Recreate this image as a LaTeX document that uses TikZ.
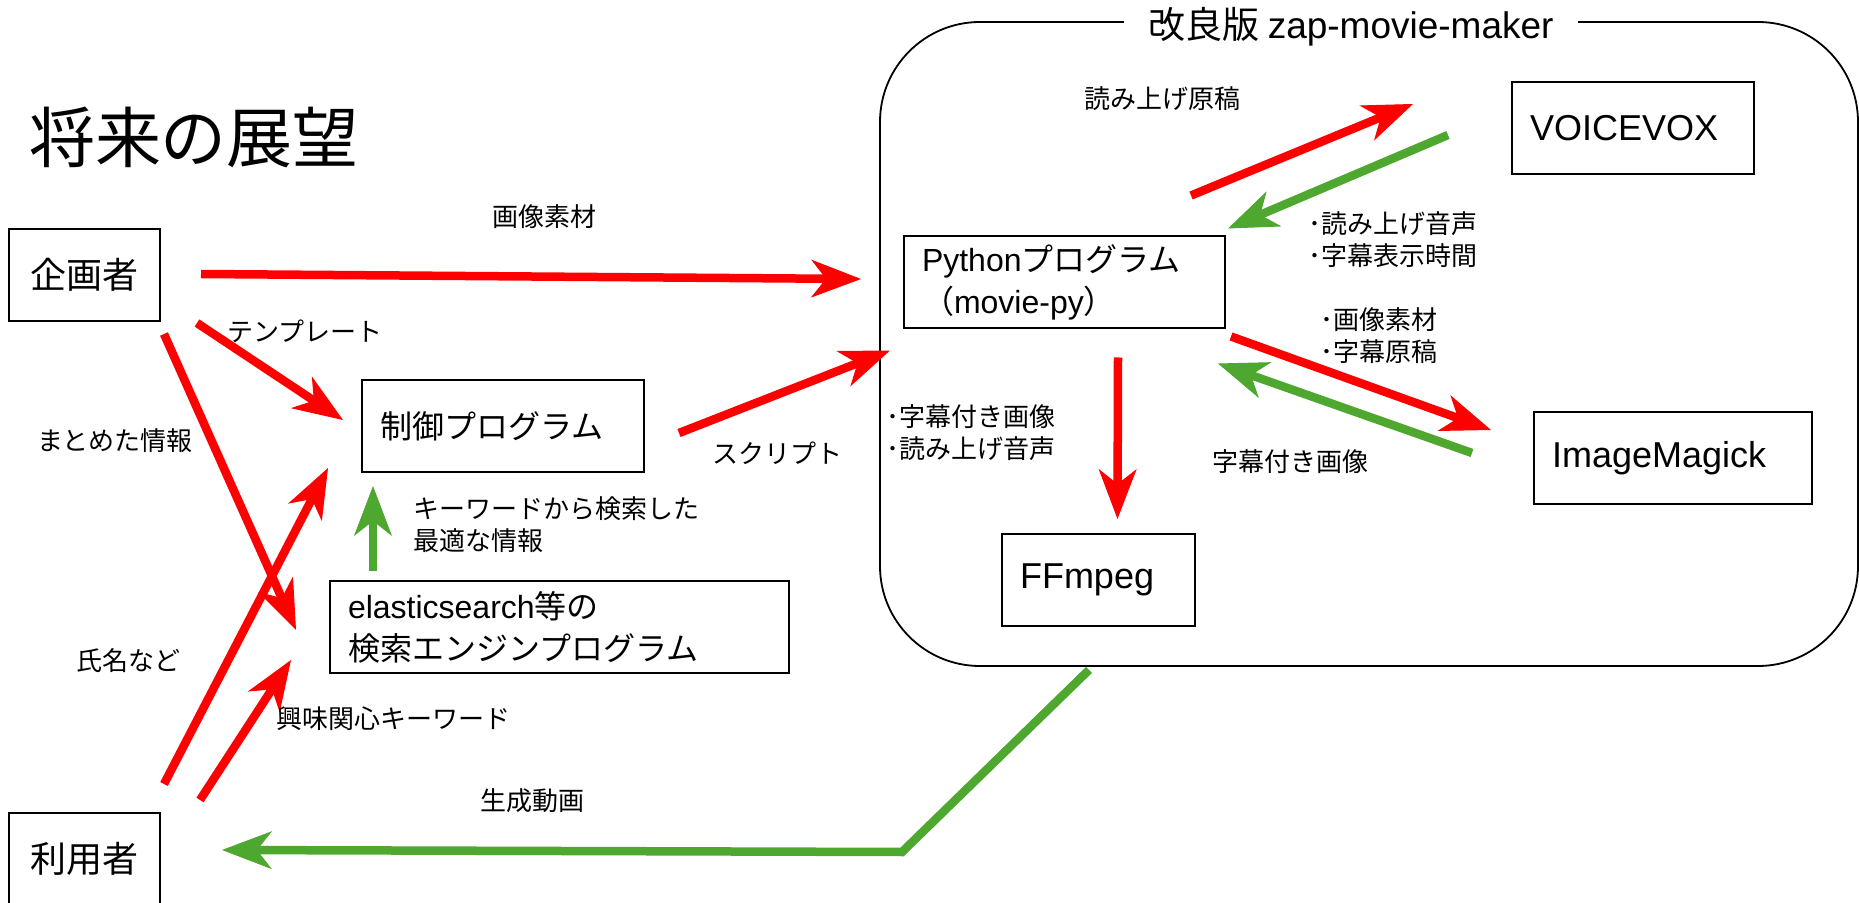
\documentclass[tikz,border=0pt]{standalone}
\usepackage{fontspec}
\setmainfont{Noto Sans CJK JP}
\newfontfamily\lat{Liberation Sans}
\usetikzlibrary{arrows.meta,calc}

\definecolor{arrowred}{HTML}{FF0000}
\definecolor{arrowgreen}{HTML}{4EA72E}

\tikzset{
  box/.style={draw, line width=1pt, inner xsep=9pt, inner ysep=0pt, minimum height=46pt, align=left, font=\fontsize{16pt}{21pt}\selectfont},
  person/.style={draw, line width=1pt, inner sep=0pt, minimum width=75.5pt, minimum height=46pt, font=\fontsize{18pt}{22pt}\selectfont},
  lbl/.style={inner sep=0pt, align=left, font=\fontsize{13pt}{16pt}\selectfont},
  redarrow/.style={draw=arrowred, line width=4.25pt, -{Stealth[length=25pt,width=19pt,inset=7.5pt,line width=0.5pt]}},
  greenarrow/.style={draw=arrowgreen, line width=4.25pt, -{Stealth[length=25pt,width=19pt,inset=7.5pt,line width=0.5pt]}},
}

\begin{document}
\begin{tikzpicture}[x=0.5pt, y=-0.5pt]
            \useasboundingbox (0,0) rectangle (1859,903);

            \node[font=\fontsize{33pt}{40pt}\selectfont, inner sep=0pt] (title) at (194,137) {将来の展望};

            \node[person] (plan) at (84.5,275) {企画者};
            \node[person] (user) at (84.5,859) {利用者};
            \node[box, text width=123pt] (ctrl) at (503,426) {制御プログラム};
            \node[box, text width=211.5pt] (es) at (559.5,627) {{\lat elasticsearch}等の\\検索エンジンプログラム};

            % zap-movie-maker
            \node[draw, line width=0.9pt, rounded corners=50pt, minimum width=489pt, minimum height=322pt] (maker) at (1369,344) {};
            \node[fill=white, inner xsep=12pt, inner ysep=2pt, font=\fontsize{18.5pt}{22pt}\selectfont] (makername) at (1351,27) {改良版 {\lat zap-movie-maker}};
            \node[box, text width=142.5pt] (py) at (1064.5,282.5) {{\lat Python}プログラム\\（{\lat movie-py}）};
            \node[box, text width=103pt, font=\lat\fontsize{18pt}{22pt}\selectfont] (vv) at (1633,128.5) {VOICEVOX};
            \node[box, text width=121pt, font=\lat\fontsize{18pt}{22pt}\selectfont] (im) at (1673,458.5) {ImageMagick};
            \node[box, text width=78.5pt, font=\lat\fontsize{18pt}{22pt}\selectfont] (ff) at (1098.5,580) {FFmpeg};
            \coordinate (bend) at (902,852);

            \draw[redarrow] ($(plan.east)+(40,-1)$) -- ($(py.west)+(-42,-3.5)$);
            \draw[redarrow] ($(plan.south east)+(36,1)$) -- ($(ctrl.west)+(-18,-6)$);
            \draw[redarrow] ($(plan.south east)+(3,12)$) -- ($(es.west)+(-33,3)$);
            \draw[redarrow] ($(user.north east)+(3,-28)$) -- ($(ctrl.south west)+(-33,-5)$);
            \draw[redarrow] ($(user.north east)+(39,-12)$) -- ($(es.south west)+(-38,-14)$);
            \draw[greenarrow] ($(es.north west)+(44,-9)$) -- ($(ctrl.south west)+(12,13)$);
            \draw[redarrow] ($(ctrl.east)+(34,7)$) -- ($(py.south west)+(-13,21)$);
            \draw[redarrow] ($(py.north east)+(-35,-40)$) -- ($(vv.west)+(-98,-24.5)$);
            \draw[greenarrow] ($(vv.west)+(-63,6.5)$) -- ($(py.north east)+(2,-7)$);
            \draw[redarrow] ($(py.south east)+(5,7)$) -- ($(im.west)+(-42,-28.5)$);
            \draw[greenarrow] ($(im.west)+(-61,-5.5)$) -- ($(py.south east)+(-8,34)$);
            \draw[redarrow] ($(py.south)+(53.5,28)$) -- ($(ff.north)+(19,-14)$);
            \draw[greenarrow] ($(maker.south)+(-280,3)$) -- (bend) -- ($(user.east)+(61,-9)$);

            \node[lbl] (l-img) at (544,217) {画像素材};
            \node[lbl] (l-tmpl) at (305,331) {テンプレート};
            \node[lbl] (l-info) at (115,441) {まとめた情報};
            \node[lbl] (l-name) at (128,661) {氏名など};
            \node[lbl, anchor=west] (l-kw) at (276,719) {興味関心キーワード};
            \node[lbl, anchor=west] (l-best) at (413,525) {キーワードから検索した\\最適な情報};
            \node[lbl] (l-script) at (777,453) {スクリプト};
            \node[lbl] (l-read) at (1162,99) {読み上げ原稿};
            \node[lbl, anchor=west] (l-voice) at (1308,240) {･読み上げ音声\\･字幕表示時間};
            \node[lbl, anchor=west] (l-imgsrc) at (1320,336) {･画像素材\\･字幕原稿};
            \node[lbl] (l-sub) at (1290,462) {字幕付き画像};
            \node[lbl, anchor=west] (l-ffin) at (886,433) {･字幕付き画像\\･読み上げ音声};
            \node[lbl] (l-movie) at (532,801) {生成動画};
        \end{tikzpicture}
\end{document}
